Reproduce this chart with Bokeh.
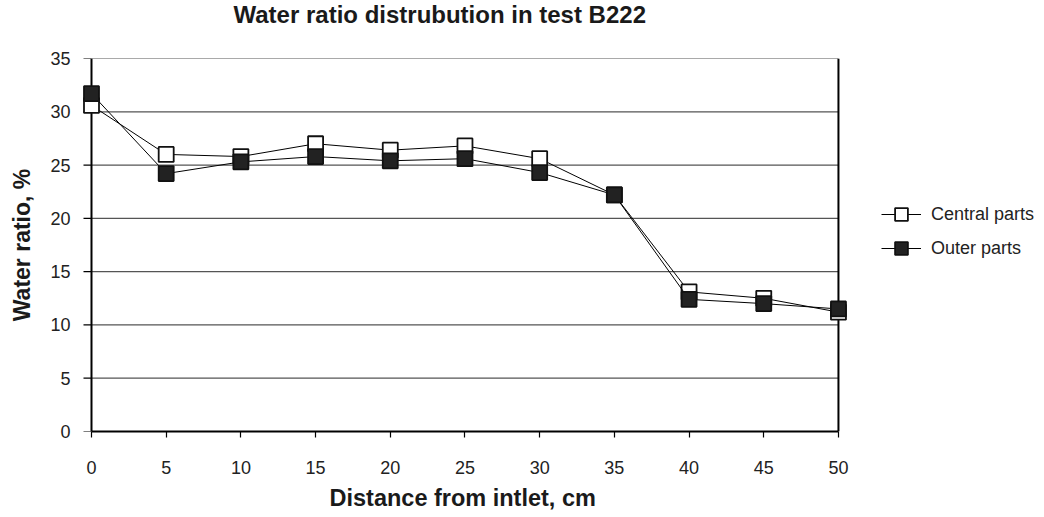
from math import pi
from bokeh.plotting import figure
from bokeh.embed import file_html
from bokeh.resources import INLINE
from bokeh.models import Legend, LegendItem, FixedTicker, Range1d, Title

distance = [0, 5, 10, 15, 20, 25, 30, 35, 40, 45, 50]
central = [30.6, 26.0, 25.8, 27.0, 26.4, 26.8, 25.6, 22.2, 13.1, 12.5, 11.2]
outer = [31.7, 24.2, 25.3, 25.8, 25.4, 25.6, 24.3, 22.2, 12.4, 12.0, 11.5]
x_ticks = [0, 5, 10, 15, 20, 25, 30, 35, 40, 45, 50]
y_ticks = [0, 5, 10, 15, 20, 25, 30, 35]

FONT = "Liberation Sans"
x0, x1 = x_ticks[0], x_ticks[-1]
y0, y1 = y_ticks[0], y_ticks[-1]

# frame extends to the right so that the legend can sit inside it
p = figure(frame_width=955, frame_height=373, output_backend="svg", toolbar_location=None,
           x_range=Range1d(-0.736, 63.19), y_range=Range1d(y0, y1),
           min_border_left=80, min_border_right=0, min_border_top=0, min_border_bottom=0)

p.title.text = "Water ratio distrubution in test B222"
p.title.align = "left"
p.title.vertical_align = "top"
p.title.offset = 153
p.title.standoff = 0
p.title.text_font = FONT
p.title.text_font_size = "24px"
p.title.text_font_style = "bold"
p.title.text_color = "#1a1a1a"

# blank spacer between title and plot frame
spacer = Title(text="\u00a0", text_font=FONT, text_font_size="24px", standoff=0)
p.add_layout(spacer, "above")

p.outline_line_color = None
p.xgrid.grid_line_color = None
p.ygrid.grid_line_color = None

# grid and frame lines between the data limits
p.segment(x0=[x0] * len(y_ticks[1:]), x1=[x1] * len(y_ticks[1:]),
          y0=y_ticks[1:], y1=y_ticks[1:], line_color="#555555", line_width=1.2)
p.segment(x0=[x1], x1=[x1], y0=[y0], y1=[y1], line_color="black", line_width=2)
# y axis line at x = 0 with outward ticks
p.segment(x0=[x0], x1=[x0], y0=[y0], y1=[y1], line_color="black", line_width=2)
p.ray(x=[x0] * len(y_ticks), y=y_ticks, length=8, length_units="screen", angle=pi,
      line_color="black", line_width=1.2)

for ax in (p.xaxis, p.yaxis):
    ax.axis_line_color = "black"
    ax.axis_line_width = 2
    ax.major_tick_line_color = "black"
    ax.major_tick_line_width = 1.2
    ax.major_tick_in = 0
    ax.minor_tick_line_color = None
    ax.major_label_text_font = FONT
    ax.major_label_text_font_size = "18px"
    ax.major_label_text_color = "#222222"
    ax.axis_label_text_font = FONT
    ax.axis_label_text_font_size = "23px"
    ax.axis_label_text_font_style = "bold"
    ax.axis_label_text_color = "#1a1a1a"

p.xaxis.bounds = (x0, x1)
p.xaxis.major_tick_out = 6
p.yaxis.axis_line_color = None
p.yaxis.major_tick_line_color = None
p.yaxis.major_tick_out = 0
p.xaxis.ticker = FixedTicker(ticks=x_ticks)
p.yaxis.ticker = FixedTicker(ticks=y_ticks)
p.xaxis.major_label_standoff = 23
p.yaxis.major_label_standoff = 10
p.yaxis.axis_label = "Water ratio, %"
p.yaxis.axis_label_standoff = 12

xlabel = Title(text="Distance from intlet, cm", align="left", offset=249, standoff=12,
               text_font=FONT, text_font_size="23.5px", text_font_style="bold",
               text_color="#1a1a1a")
p.add_layout(xlabel, "below")

l1 = p.line(distance, central, line_color="black", line_width=1)
s1 = p.scatter(distance, central, marker="square", size=15, fill_color="white",
               line_color="#111111", line_width=1.8)
l2 = p.line(distance, outer, line_color="black", line_width=1)
s2 = p.scatter(distance, outer, marker="square", size=15, fill_color="#222222",
               line_color="#111111", line_width=1.8)

legend = Legend(items=[LegendItem(label="Central parts", renderers=[l1, s1]),
                       LegendItem(label="Outer parts", renderers=[l2, s2])],
                location=(801, 167), border_line_color=None, background_fill_alpha=0,
                label_text_font=FONT, label_text_font_size="18px", label_text_color="#222222",
                glyph_width=40, glyph_height=32, spacing=2, label_standoff=10,
                padding=3, margin=0)
p.add_layout(legend, "center")

open("out.html", "w").write(file_html(p, INLINE))
